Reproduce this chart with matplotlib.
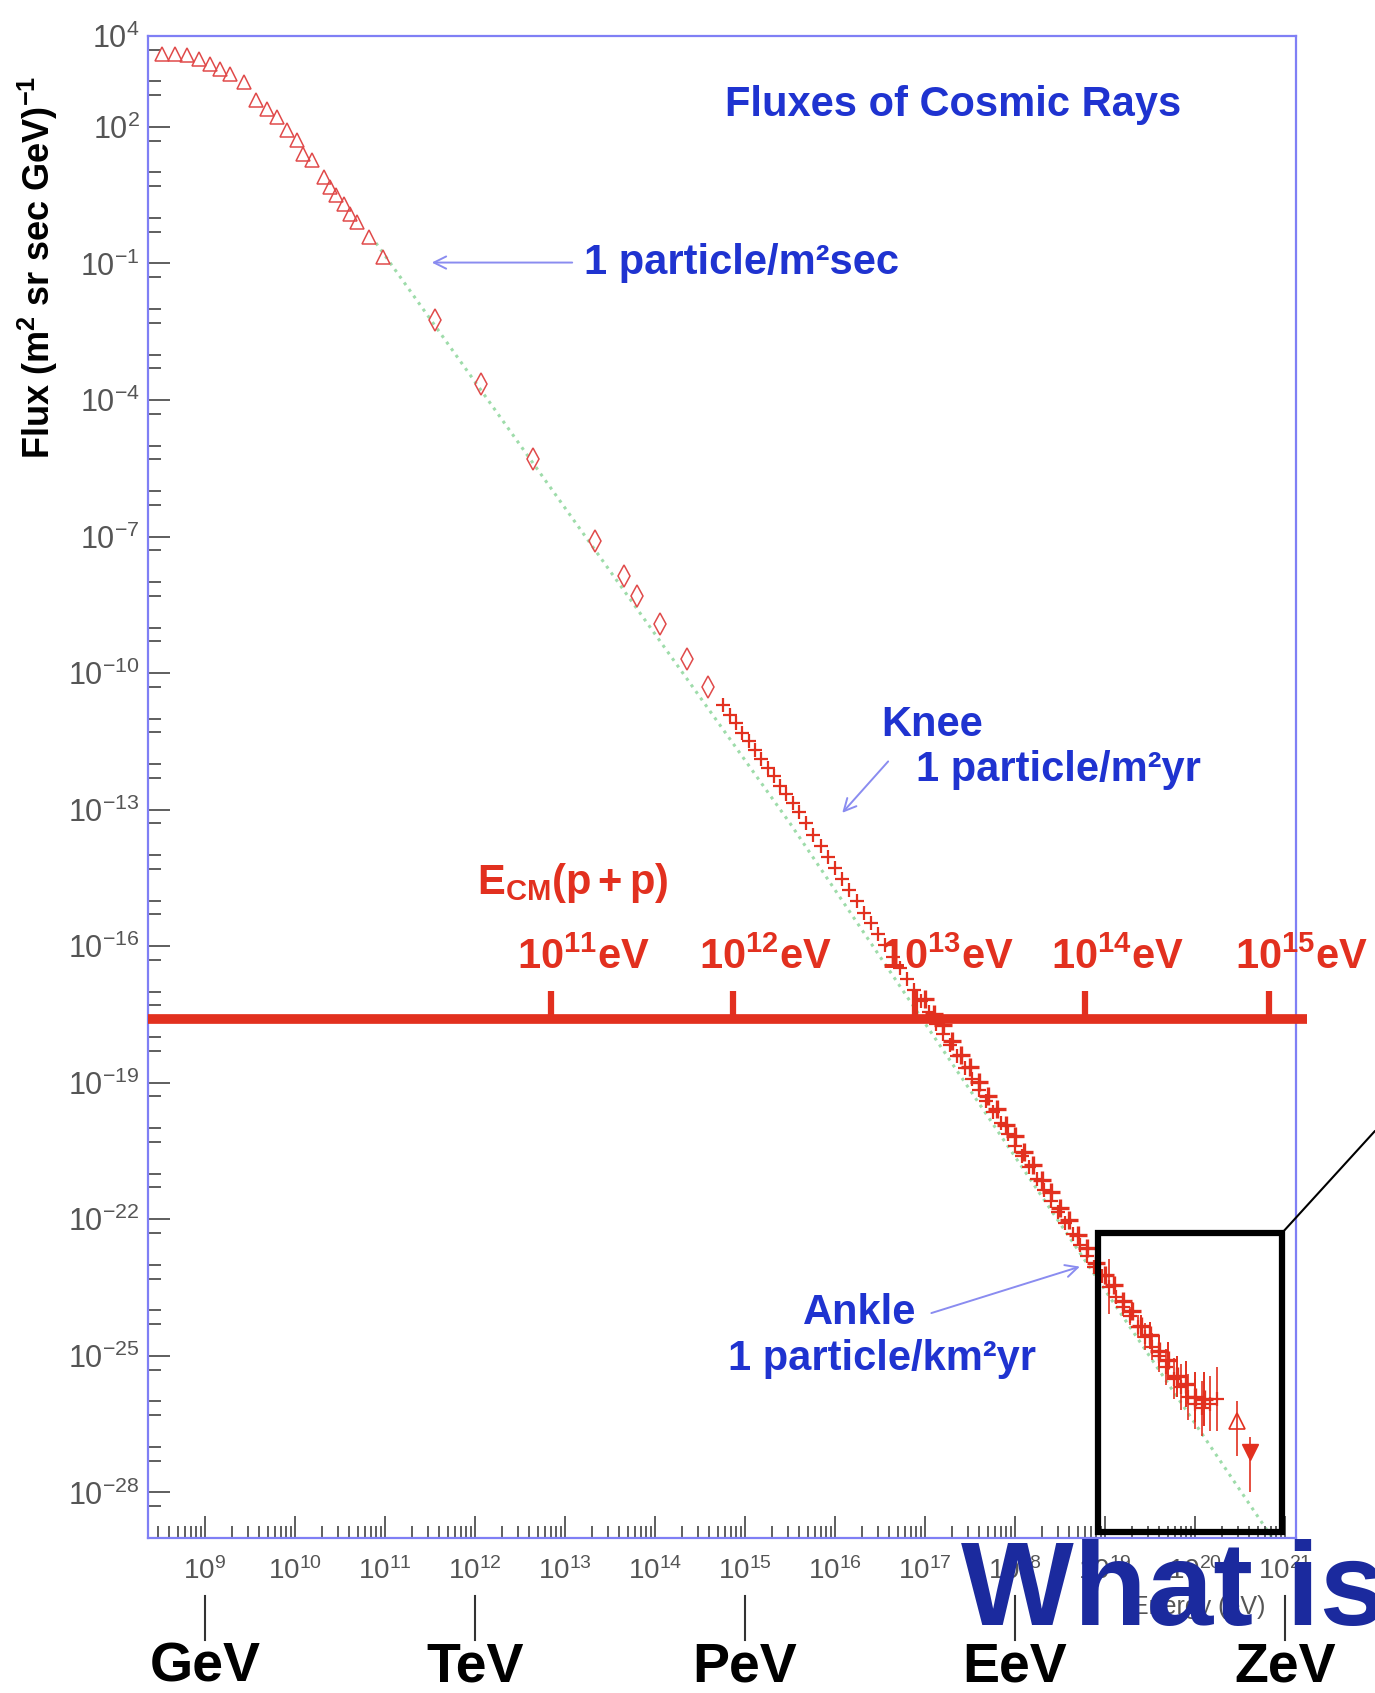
import numpy as np
import matplotlib
matplotlib.use("Agg")
import matplotlib.pyplot as plt
from matplotlib import transforms
from matplotlib.patches import Rectangle
from matplotlib.ticker import FixedLocator, FixedFormatter, LogLocator, NullFormatter

plt.rcParams['font.family'] = ['Liberation Sans', 'DejaVu Sans']
plt.rcParams['mathtext.fontset'] = 'custom'
plt.rcParams['mathtext.rm'] = 'Liberation Sans'
plt.rcParams['mathtext.it'] = 'Liberation Sans:italic'
plt.rcParams['mathtext.bf'] = 'Liberation Sans:bold'

# all values are log10(E / eV) and log10(flux)
tri_logE = [8.52, 8.67, 8.80, 8.93, 9.06, 9.17, 9.28, 9.43, 9.57, 9.69, 9.80, 9.91,
            10.02, 10.09, 10.19, 10.32, 10.39, 10.46, 10.54, 10.61, 10.69, 10.82, 10.98]
tri_logF = [3.61, 3.61, 3.57, 3.50, 3.39, 3.28, 3.17, 2.99, 2.59, 2.40, 2.22, 1.93,
            1.71, 1.41, 1.27, 0.90, 0.68, 0.50, 0.31, 0.09, -0.09, -0.42, -0.86]

dia_logE = [11.56, 12.07, 12.65, 13.33, 13.65, 13.80, 14.06, 14.35, 14.59]
dia_logF = [-2.25, -3.64, -5.29, -7.09, -7.86, -8.30, -8.92, -9.69, -10.31]

cross_logE = [14.76, 14.83, 14.90, 14.97, 15.04, 15.11, 15.18, 15.25, 15.32, 15.39,
              15.46, 15.53, 15.60, 15.68, 15.76, 15.84, 15.92, 16.00, 16.08, 16.16,
              16.24, 16.32, 16.40, 16.48, 16.56, 16.64, 16.72, 16.80, 16.88, 16.96,
              17.04, 17.12, 17.20, 17.28, 17.36, 17.44, 17.52, 17.60, 17.68, 17.76,
              17.84, 17.92, 18.00, 18.08, 18.16, 18.24, 18.32, 18.40, 18.48, 18.56,
              18.64, 18.72, 18.80, 18.88, 18.96, 19.04, 19.12, 19.20, 19.28, 19.36,
              19.44, 19.52, 19.60, 19.68, 19.76, 19.84, 19.92, 20.00, 20.08, 20.16, 20.24]
cross_logF = [-10.71, -10.92, -11.10, -11.32, -11.49, -11.70, -11.88, -12.08, -12.27, -12.48,
              -12.66, -12.86, -13.06, -13.30, -13.55, -13.80, -14.03, -14.28, -14.52, -14.77,
              -15.01, -15.26, -15.49, -15.74, -15.98, -16.23, -16.47, -16.72, -16.96, -17.21,
              -17.45, -17.70, -17.93, -18.18, -18.42, -18.67, -18.91, -19.16, -19.40, -19.64,
              -19.89, -20.13, -20.38, -20.62, -20.86, -21.11, -21.35, -21.60, -21.84, -22.08,
              -22.33, -22.57, -22.81, -23.05, -23.25, -23.48, -23.70, -23.93, -24.12, -24.36,
              -24.58, -24.80, -25.00, -25.25, -25.50, -25.68, -25.90, -26.05, -26.15, -26.05, -25.95]
cross_err = [0.03] * 30 + [0.05] * 24 + [0.1, 0.6, 0.15, 0.2, 0.2, 0.25, 0.3, 0.3, 0.35,
                                          0.4, 0.45, 0.5, 0.5, 0.55, 0.6, 0.6, 0.7]

hi_logE = [17.0, 17.1, 17.2, 17.3, 17.4, 17.5, 17.6, 17.7, 17.8, 17.9, 18.0, 18.1, 18.2,
           18.3, 18.4, 18.5, 18.6, 18.7, 18.8, 18.9, 19.0, 19.1, 19.2, 19.3, 19.4, 19.5,
           19.6, 19.7, 19.8, 19.9, 20.0, 20.1]
hi_logF = [-17.15, -17.48, -17.74, -18.08, -18.40, -18.66, -18.99, -19.30, -19.57, -19.92,
           -20.18, -20.52, -20.80, -21.13, -21.41, -21.75, -22.02, -22.35, -22.62, -22.95,
           -23.22, -23.45, -23.80, -24.02, -24.35, -24.55, -24.90, -25.10, -25.45, -25.62,
           -25.90, -25.95]
hi_err = [0.05] * 16 + [0.1] * 7 + [0.2, 0.25, 0.3, 0.35, 0.4, 0.45, 0.5, 0.55, 0.6]

open_tri_logE, open_tri_logF, open_tri_lo, open_tri_hi = [20.46], [-26.43], [0.77], [0.43]
full_tri_logE, full_tri_logF, full_tri_lo, full_tri_hi = [20.61], [-27.12], [0.88], [0.33]

fit_logE = [10.9, 15.5, 20.85]
fit_logF = [-0.55, -13.3, -28.98]

ecm_exp = [11, 12, 13, 14, 15]
ecm_logE = [12.84, 14.87, 16.89, 18.78, 20.82]
ecm_level = -17.59

unit_names = ['GeV', 'TeV', 'PeV', 'EeV', 'ZeV']
unit_logE = [9, 12, 15, 18, 21]

xtick_exp = list(range(9, 22))
ytick_exp = [4, 2, -1, -4, -7, -10, -13, -16, -19, -22, -25, -28]

red = '#e2301f'
blue = '#1f33d0'
arrow_c = '#8a8cf0'


def P(v):
    return 10.0 ** np.asarray(v, dtype=float)


def err_band(logF, lo, hi):
    f = P(logF)
    return [f - P(np.asarray(logF) - np.asarray(lo)), P(np.asarray(logF) + np.asarray(hi)) - f]


fig = plt.figure(figsize=(13.75, 16.93), dpi=100)
ax = fig.add_axes([0.1076, 0.0916, 0.8349, 0.8872])
ax.set_xscale('log')
ax.set_yscale('log')
ax.set_xlim(10 ** 8.367, 10 ** 21.12)
ax.set_ylim(1e-29, 1e4)

# reference power law
ax.plot(P(fit_logE), P(fit_logF), ls=':', color='#9edcaa', lw=2.2, zorder=1)

ax.plot(P(tri_logE), P(tri_logF), '^', ms=10, mfc='none', mec='#e04a4a', mew=1.1, zorder=3)
ax.plot(P(dia_logE), P(dia_logF), 'd', ms=11, mfc='none', mec='#e04a4a', mew=1.1, zorder=3)
ax.errorbar(P(cross_logE), P(cross_logF), yerr=err_band(cross_logF, cross_err, cross_err),
            fmt='+', ms=10, mew=1.6, color=red, elinewidth=1.2, zorder=3)
ax.errorbar(P(hi_logE), P(hi_logF), yerr=err_band(hi_logF, hi_err, hi_err),
            fmt='+', ms=13, mew=2.4, color=red, elinewidth=1.4, zorder=3)
ax.errorbar(P(open_tri_logE), P(open_tri_logF),
            yerr=err_band(open_tri_logF, open_tri_lo, open_tri_hi),
            fmt='^', ms=11, mfc='none', mec=red, mew=1.2, color=red, elinewidth=1.2, zorder=3)
ax.errorbar(P(full_tri_logE), P(full_tri_logF),
            yerr=err_band(full_tri_logF, full_tri_lo, full_tri_hi),
            fmt='v', ms=11, mfc=red, mec=red, color=red, elinewidth=1.2, zorder=3)

# axis styling
for s in ax.spines.values():
    s.set_color('#7f7ff5')
    s.set_linewidth(1.6)
ax.xaxis.set_major_locator(FixedLocator(P(xtick_exp)))
ax.xaxis.set_major_formatter(FixedFormatter(['$10^{%d}$' % e for e in xtick_exp]))
ax.xaxis.set_minor_locator(LogLocator(base=10, subs=np.arange(2, 10), numticks=100))
ax.xaxis.set_minor_formatter(NullFormatter())
ax.yaxis.set_major_locator(FixedLocator(P(ytick_exp)))
ax.yaxis.set_major_formatter(FixedFormatter(['$10^{%d}$' % e for e in ytick_exp]))
ymin = [10.0 ** k for k in range(-29, 5) if k not in ytick_exp] + [5 * 10.0 ** k for k in range(-29, 4)]
ax.yaxis.set_minor_locator(FixedLocator(ymin))
ax.yaxis.set_minor_formatter(NullFormatter())
ax.tick_params(which='both', direction='in', color='#333333', width=1.1, labelcolor='#555555')
ax.tick_params(which='major', length=16)
ax.tick_params(which='minor', length=9)
ax.tick_params(axis='x', pad=14, labelsize=20)
ax.tick_params(axis='y', pad=6, labelsize=22)

fig.text(0.0276, 0.842, r'Flux (m$^\mathbf{2}$ sr sec GeV)$^\mathbf{-1}$', rotation=90,
         ha='center', va='center', fontsize=26, fontweight='bold')

ax.text(0.701, 0.954, 'Fluxes of Cosmic Rays', transform=ax.transAxes, ha='center', va='center',
        fontsize=30, fontweight='bold', color=blue)

# annotations
ax.annotate('', xy=(P(11.52), P(-0.98)), xytext=(P(13.08), P(-0.98)),
            arrowprops=dict(arrowstyle='->', color=arrow_c, lw=1.4, mutation_scale=22,
                            shrinkA=0, shrinkB=0))
ax.text(P(13.21), P(-0.98), '1 particle/m²sec', ha='left', va='center', fontsize=30,
        fontweight='bold', color=blue)

ax.text(P(17.08), P(-11.13), 'Knee', ha='center', va='center', fontsize=30,
        fontweight='bold', color=blue)
ax.text(P(18.48), P(-12.12), '1 particle/m²yr', ha='center', va='center', fontsize=30,
        fontweight='bold', color=blue)
ax.annotate('', xy=(P(16.08), P(-13.07)), xytext=(P(16.59), P(-11.94)),
            arrowprops=dict(arrowstyle='->', color=arrow_c, lw=1.4, mutation_scale=22,
                            shrinkA=0, shrinkB=0))

ax.text(P(16.27), P(-24.05), 'Ankle', ha='center', va='center', fontsize=30,
        fontweight='bold', color=blue)
ax.text(P(16.52), P(-25.06), '1 particle/km²yr', ha='center', va='center', fontsize=30,
        fontweight='bold', color=blue)
ax.annotate('', xy=(P(18.72), P(-23.04)), xytext=(P(17.07), P(-24.06)),
            arrowprops=dict(arrowstyle='->', color=arrow_c, lw=1.4, mutation_scale=22,
                            shrinkA=0, shrinkB=0))

# E_CM(p+p) scale
ax.plot([P(8.367), P(21.24)], [P(ecm_level), P(ecm_level)], color=red, lw=7,
        solid_capstyle='butt', clip_on=False, zorder=4)
for e, le in zip(ecm_exp, ecm_logE):
    ax.plot([P(le), P(le)], [P(ecm_level), P(ecm_level + 0.6)], color=red, lw=4.5,
            solid_capstyle='butt', clip_on=False, zorder=4)
    ax.text(P(le + 0.36), P(-16.25), r'$\mathbf{10^{%d}eV}$' % e, ha='center', va='center',
            fontsize=30, color=red, zorder=5)
ax.text(P(13.08), P(-14.62), r'$\mathbf{E_{CM}(p+p)}$', ha='center', va='center',
        fontsize=30, color=red)

# highlighted region and connector
box_logE = (18.92, 20.97)
box_logF = (-28.87, -22.29)
ax.add_patch(Rectangle((P(box_logE[0]), P(box_logF[0])), P(box_logE[1]) - P(box_logE[0]),
                       P(box_logF[1]) - P(box_logF[0]), fill=False, ec='black', lw=4.5,
                       clip_on=False, zorder=6))
ax.annotate('', xy=(1.0, 0.332), xycoords='figure fraction',
            xytext=(P(box_logE[1]), P(box_logF[1])), textcoords='data',
            arrowprops=dict(arrowstyle='-', color='black', lw=1.5, shrinkA=0, shrinkB=0))

# energy units below the axis
bt = transforms.blended_transform_factory(ax.transData, fig.transFigure)
for name, le in zip(unit_names, unit_logE):
    ax.plot([P(le), P(le)], [0.0573, 0.0313], transform=bt, color='#333333', lw=1.5,
            clip_on=False)
    ax.text(P(le), 0.007, name, transform=bt, ha='center', va='baseline', fontsize=40,
            fontweight='bold', color='black')

fig.text(0.872, 0.051, 'Energy (eV)', ha='center', va='center', fontsize=18,
         color='#555555', zorder=5)
fig.text(0.699, 0.040, 'What is', ha='left', va='baseline', fontsize=86,
         fontweight='bold', color='#1b2a9e', zorder=10)

fig.savefig('out.png', dpi=100, facecolor='white')
